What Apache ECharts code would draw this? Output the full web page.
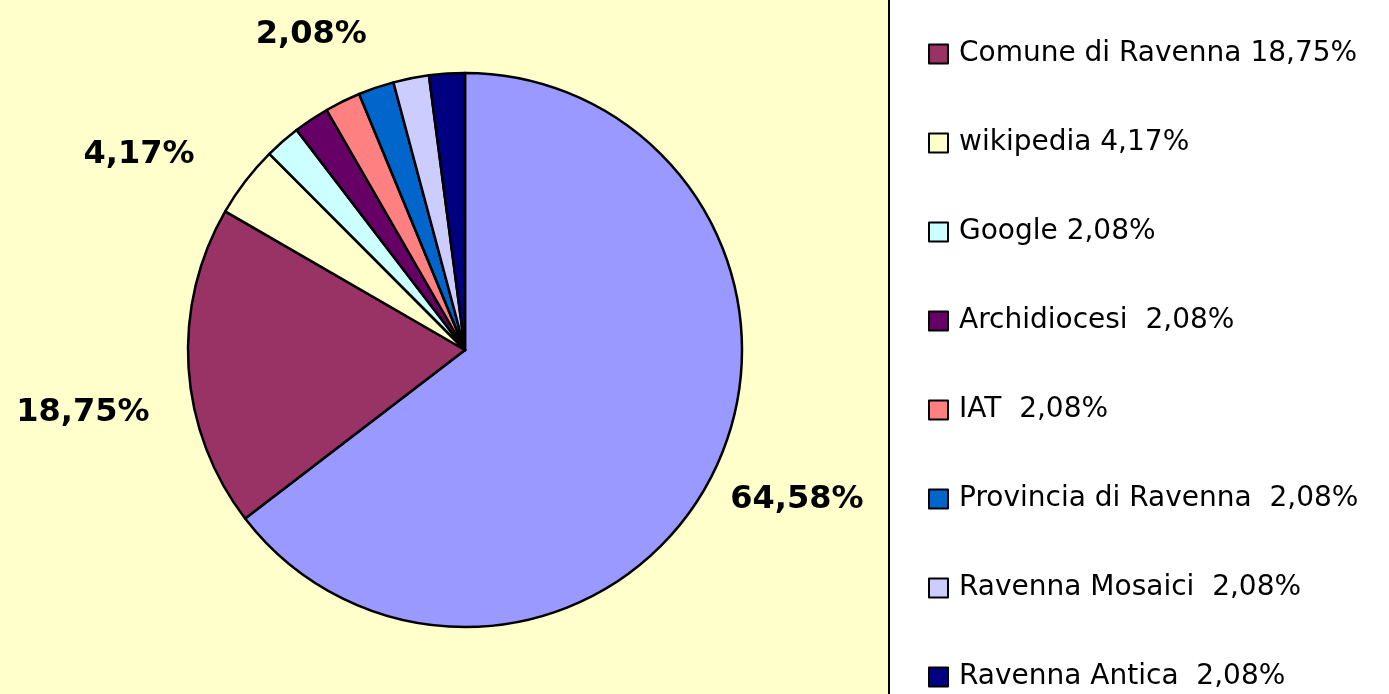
<!DOCTYPE html>
<html lang="it">
<head>
<meta charset="UTF-8">
<title>Fonti</title>
<script src="https://cdn.jsdelivr.net/npm/echarts@6/dist/echarts.min.js"></script>
<style>
    html, body { margin: 0; padding: 0; background: #fff; }
    #chart { width: 1389px; height: 694px; }
</style>
</head>
<body>
<div id="chart"></div>
<script>
    // dati della torta (percentuali)
    var sliceNames = ['Altri', 'Comune di Ravenna 18,75%', 'wikipedia 4,17%', 'Google 2,08%',
        'Archidiocesi  2,08%', 'IAT  2,08%', 'Provincia di Ravenna  2,08%',
        'Ravenna Mosaici  2,08%', 'Ravenna Antica  2,08%'];
    var sliceValues = [64.58, 18.75, 4.17, 2.08, 2.08, 2.08, 2.08, 2.08, 2.08];
    var sliceColors = ['#9999FF', '#993366', '#FFFFCC', '#CCFFFF', '#660066',
        '#FF8080', '#0066CC', '#CCCCFF', '#000080'];
    var labelled = [0, 1, 2, 5];

    // spostamento etichette (dx, dy)
    var labelShift = { 0: [-6, 18], 1: [-14, 43], 2: [-30, -14], 5: [38, -49] };

    var chart = echarts.init(document.getElementById('chart'));

    var data = sliceNames.map(function (n, i) {
        return {
            name: n,
            value: sliceValues[i],
            itemStyle: { color: sliceColors[i] },
            label: { show: labelled.indexOf(i) >= 0 }
        };
    });

    var option = {
        animation: false,
        graphic: [
            { type: 'rect', z: -1, shape: { x: 0, y: 0, width: 888, height: 694 }, style: { fill: '#FFFFCC' } },
            { type: 'line', z: 10, shape: { x1: 889, y1: 0, x2: 889, y2: 694 }, style: { stroke: '#000', lineWidth: 2 } }
        ],
        legend: {
            orient: 'vertical',
            left: 928,
            top: 39,
            padding: 0,
            itemWidth: 19,
            itemHeight: 19,
            itemGap: 59,
            icon: 'rect',
            selectedMode: false,
            data: sliceNames.slice(1),
            itemStyle: { borderColor: '#000', borderWidth: 2 },
            textStyle: { fontFamily: 'DejaVu Sans', fontSize: 28, color: '#000', lineHeight: 30, padding: [0, 0, 0, 6] }
        },
        series: [{
            type: 'pie',
            center: [465, 350],
            radius: 277,
            startAngle: 90,
            clockwise: true,
            avoidLabelOverlap: false,
            itemStyle: { borderColor: '#000', borderWidth: 2.5 },
            emphasis: { disabled: true },
            label: {
                position: 'outside',
                fontFamily: 'DejaVu Sans',
                fontWeight: 'bold',
                fontSize: 32,
                color: '#000',
                formatter: function (p) {
                    return p.value.toFixed(2).replace('.', ',') + '%';
                }
            },
            labelLine: { show: false, length: 20, length2: 0 },
            labelLayout: function (p) {
                var s = labelShift[p.dataIndex];
                return s ? { dx: s[0], dy: s[1] } : {};
            },
            data: data
        }]
    };

    chart.setOption(option);
</script>
</body>
</html>
